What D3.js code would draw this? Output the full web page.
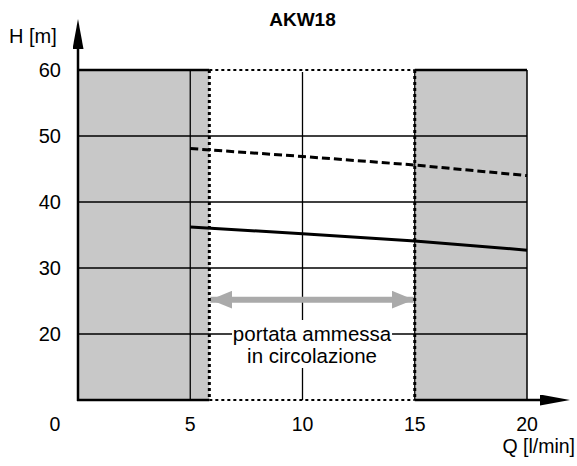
<!DOCTYPE html>
<html>
<head>
<meta charset="utf-8">
<script src="https://cdn.jsdelivr.net/npm/d3@7"></script>
<style>
  body { margin: 0; background: #fff; }
  svg { display: block; font-family: "Liberation Sans", Arial, sans-serif; }
</style>
</head>
<body>
<div id="chart"></div>
<script>
// dati
const title = 'AKW18';
const flowQ = [5, 10, 15, 20];
const headMax = [48.1, 46.9, 45.6, 44.0];   // curva tratteggiata
const headMin = [36.2, 35.2, 34.1, 32.7];   // curva continua
const xTicks = [5, 10, 15, 20];
const yTicks = [20, 30, 40, 50, 60];
const allowedRange = [5.85, 15];
const rangeLabel = ['portata ammessa', 'in circolazione'];

const width = 577;
const height = 466;
const margin = { top: 70, right: 50, bottom: 66, left: 78 };

const svg = d3.select('#chart')
  .append('svg')
  .attr('width', width)
  .attr('height', height);

// scale
const x = d3.scaleLinear().domain([0, 20]).range([margin.left, width - margin.right]);
const y = d3.scaleLinear().domain([10, 60]).range([height - margin.bottom, margin.top]);

const x0 = x(0), x1 = x(20), y0 = y(10), y1 = y(60);
const midQ = (allowedRange[0] + allowedRange[1]) / 2;

// sfondo grigio
svg.append('rect')
  .attr('x', x0).attr('y', y1)
  .attr('width', x1 - x0).attr('height', y0 - y1)
  .attr('fill', '#c8c8c8');

// zona ammessa bianca
svg.append('rect')
  .attr('x', x(allowedRange[0])).attr('y', y1)
  .attr('width', x(allowedRange[1]) - x(allowedRange[0]))
  .attr('height', y0 - y1)
  .attr('fill', '#fff');

// griglia
svg.append('g')
  .selectAll('line')
  .data(yTicks.filter(d => d < 60))
  .join('line')
  .attr('x1', x0).attr('x2', x1)
  .attr('y1', d => y(d)).attr('y2', d => y(d))
  .attr('stroke', '#000').attr('stroke-width', 1.3);

svg.append('g')
  .selectAll('line')
  .data(xTicks.filter(d => d < 20))
  .join('line')
  .attr('x1', d => x(d)).attr('x2', d => x(d))
  .attr('y1', y1).attr('y2', y0)
  .attr('stroke', '#000').attr('stroke-width', 1.3);

// bordo
svg.append('line')
  .attr('x1', x0).attr('x2', x1).attr('y1', y1).attr('y2', y1)
  .attr('stroke', '#000').attr('stroke-width', 2.5);
svg.append('line')
  .attr('x1', x1).attr('x2', x1).attr('y1', y1).attr('y2', y0)
  .attr('stroke', '#000').attr('stroke-width', 1.5);

// copertura bordo superiore nella zona ammessa
svg.append('rect')
  .attr('x', x(allowedRange[0])).attr('y', y1 - 2)
  .attr('width', x(allowedRange[1]) - x(allowedRange[0]))
  .attr('height', 4)
  .attr('fill', '#fff');

// etichetta della zona ammessa
svg.append('rect')
  .attr('x', x(midQ) - 80).attr('y', y(20) - 14)
  .attr('width', 160).attr('height', 48)
  .attr('fill', '#fff');

const label = svg.append('text')
  .attr('text-anchor', 'middle')
  .attr('font-size', '20.5px')
  .attr('fill', '#000');
label.selectAll('tspan')
  .data(rangeLabel)
  .join('tspan')
  .attr('x', x(midQ))
  .attr('y', (d, i) => y(20) + 7 + i * 22)
  .text(d => d);

// freccia doppia grigia
const defs = svg.append('defs');
defs.append('marker')
  .attr('id', 'grayHead')
  .attr('viewBox', '0 0 22 18')
  .attr('refX', 22).attr('refY', 9)
  .attr('markerWidth', 22).attr('markerHeight', 18)
  .attr('markerUnits', 'userSpaceOnUse')
  .attr('orient', 'auto-start-reverse')
  .append('path')
  .attr('d', 'M0,0 L22,9 L0,18 Z')
  .attr('fill', '#aaaaaa');

svg.append('line')
  .attr('x1', x(allowedRange[0]) + 1).attr('x2', x(allowedRange[1]) - 1)
  .attr('y1', y(25.2)).attr('y2', y(25.2))
  .attr('stroke', '#aaaaaa').attr('stroke-width', 6)
  .attr('marker-start', 'url(#grayHead)')
  .attr('marker-end', 'url(#grayHead)');

// riquadro punteggiato
svg.append('g')
  .selectAll('line')
  .data(allowedRange)
  .join('line')
  .attr('x1', d => x(d)).attr('x2', d => x(d))
  .attr('y1', y1).attr('y2', y0)
  .attr('stroke', '#000').attr('stroke-width', 3)
  .attr('stroke-dasharray', '3,3');

svg.append('g')
  .selectAll('line')
  .data([60, 10])
  .join('line')
  .attr('x1', x(allowedRange[0])).attr('x2', x(allowedRange[1]))
  .attr('y1', d => y(d)).attr('y2', d => y(d))
  .attr('stroke', '#000').attr('stroke-width', 2)
  .attr('stroke-dasharray', '3,3');

// curve
const line = d3.line()
  .x(d => x(d[0]))
  .y(d => y(d[1]));

svg.append('path')
  .datum(d3.zip(flowQ, headMax))
  .attr('d', line)
  .attr('fill', 'none')
  .attr('stroke', '#000').attr('stroke-width', 3)
  .attr('stroke-dasharray', '8,4');

svg.append('path')
  .datum(d3.zip(flowQ, headMin))
  .attr('d', line)
  .attr('fill', 'none')
  .attr('stroke', '#000').attr('stroke-width', 3);

// assi con frecce
defs.append('marker')
  .attr('id', 'blackHead')
  .attr('viewBox', '0 0 30 11')
  .attr('refX', 0).attr('refY', 5.5)
  .attr('markerWidth', 30).attr('markerHeight', 11)
  .attr('markerUnits', 'userSpaceOnUse')
  .attr('orient', 'auto')
  .append('path')
  .attr('d', 'M0,0 L30,5.5 L0,11 Z')
  .attr('fill', '#000');

// asse x
svg.append('line')
  .attr('x1', x0 - 1).attr('x2', x(allowedRange[0]))
  .attr('y1', y0).attr('y2', y0)
  .attr('stroke', '#000').attr('stroke-width', 2.5);
svg.append('line')
  .attr('x1', x(allowedRange[1])).attr('x2', 540)
  .attr('y1', y0).attr('y2', y0)
  .attr('stroke', '#000').attr('stroke-width', 2.5)
  .attr('marker-end', 'url(#blackHead)');

// asse y
svg.append('line')
  .attr('x1', x0).attr('x2', x0)
  .attr('y1', y0 + 1).attr('y2', 49)
  .attr('stroke', '#000').attr('stroke-width', 2.5)
  .attr('marker-end', 'url(#blackHead)');

// etichette tick
svg.append('g')
  .attr('font-size', '20px')
  .attr('text-anchor', 'end')
  .selectAll('text')
  .data(yTicks)
  .join('text')
  .attr('x', x0 - 17)
  .attr('y', d => y(d))
  .attr('dy', '0.35em')
  .text(d => d);

svg.append('g')
  .attr('font-size', '19.5px')
  .attr('text-anchor', 'middle')
  .selectAll('text')
  .data(xTicks)
  .join('text')
  .attr('x', d => x(d))
  .attr('y', y0 + 31)
  .text(d => d);

svg.append('text')
  .attr('font-size', '19.5px')
  .attr('text-anchor', 'middle')
  .attr('x', x0 - 23)
  .attr('y', y0 + 31)
  .text('0');

// titoli degli assi
svg.append('text')
  .attr('font-size', '20px')
  .attr('x', 9).attr('y', 43)
  .text('H [m]');

svg.append('text')
  .attr('font-size', '19.5px')
  .attr('text-anchor', 'end')
  .attr('x', 575).attr('y', 453)
  .text('Q [l/min]');

// titolo
svg.append('text')
  .attr('font-size', '19px')
  .attr('font-weight', 'bold')
  .attr('text-anchor', 'middle')
  .attr('x', x(10)).attr('y', 26)
  .text(title);
</script>
</body>
</html>
